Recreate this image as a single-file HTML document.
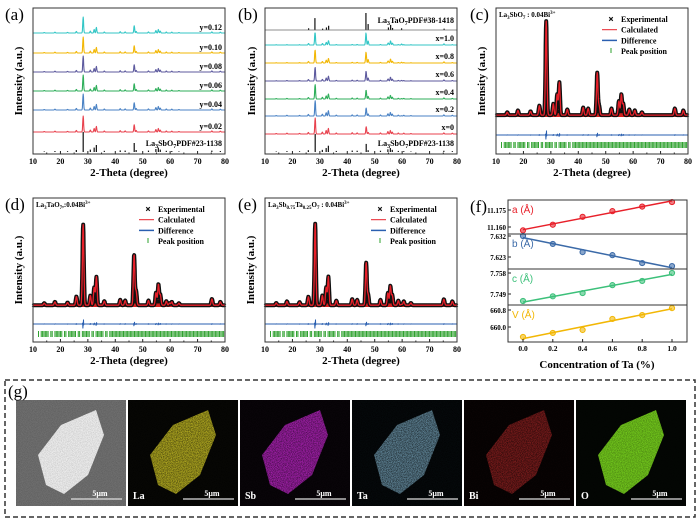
<!DOCTYPE html>
<html><head><meta charset="utf-8">
<style>
html,body{margin:0;padding:0;background:#fff;}
svg{display:block;font-family:"Liberation Serif",serif;}
</style></head>
<body>
<svg id="fig" width="700" height="520" viewBox="0 0 700 520" xmlns="http://www.w3.org/2000/svg"></svg>
<script>
// ---------- data ----------
const sbPeaks = [14.1, 18.0, 22.6, 25.8, 28.3, 30.9, 32.3, 33.1, 36.0, 41.8, 43.6, 46.9, 47.6, 52.1, 54.8, 55.7, 56.4, 58.6, 60.6, 63.2, 75.2, 78.3];
const sbAmps  = [0.03, 0.05, 0.04, 0.10, 1.00, 0.12, 0.22, 0.35, 0.06, 0.08, 0.07, 0.45, 0.10, 0.07, 0.15, 0.22, 0.12, 0.06, 0.05, 0.03, 0.07, 0.05];
const taPeaks = [25.9, 28.2, 31.0, 32.4, 33.2, 46.8, 47.6, 55.0, 55.8, 56.5, 59.8, 75.3];
const taAmps  = [0.10, 0.70, 0.08, 0.15, 0.25, 1.00, 0.35, 0.15, 0.30, 0.12, 0.10, 0.08];
const yLabels = ["y=0.12","y=0.10","y=0.08","y=0.06","y=0.04","y=0.02"];
const xLabels = ["x=1.0","x=0.8","x=0.6","x=0.4","x=0.2","x=0"];
const seriesColors = ["#33c6c6","#f2b705","#5d5a9e","#2eae5a","#4a82c4","#e8424e"];
const aBase = [33,53,72,91,110,132];
const bBase = [45,63,81,99,116,134];
const xTicks = [10,20,30,40,50,60,70,80];
const taConc = [0.0,0.2,0.4,0.6,0.8,1.0];
const latA = [11.157,11.162,11.169,11.174,11.178,11.182];
const latB = [7.6320,7.6286,7.6251,7.6238,7.6204,7.6191];
const latC = [7.7460,7.7480,7.7494,7.7528,7.7546,7.7580];
const latV = [659.53,659.72,659.86,660.38,660.56,660.89];
const fTicks = [0.0,0.2,0.4,0.6,0.8,1.0];

const NS="http://www.w3.org/2000/svg";
const svg=document.getElementById('fig');
function mk(tag,attrs,parent,text){
  const e=document.createElementNS(NS,tag);
  for(const k in attrs) e.setAttribute(k,attrs[k]);
  if(text!==undefined) e.textContent=text;
  (parent||svg).appendChild(e);
  return e;
}
function sx(x0,x1){return v=>x0+(v-10)/70*(x1-x0);}
function profile(peaks,amps,w){
  return t=>{let s=0;for(let i=0;i<peaks.length;i++){const d=(t-peaks[i])/w;s+=amps[i]*Math.exp(-d*d);}return s;};
}
function curve(g,f,X,base,h,color,name,sw){
  let pts=[];
  for(let t=10;t<=80;t+=0.1){pts.push(X(t).toFixed(1)+","+(base-h*f(t)).toFixed(1));}
  const p=mk('polyline',{points:pts.join(' '),fill:'none',stroke:color,'stroke-width':sw||1,'stroke-linejoin':'round'},g);
  
  
  return p;
}
function sticks(g,peaks,amps,X,base,h,name){
  const gg=mk('g',{},g);
  
  
  peaks.forEach((p,i)=>mk('line',{x1:X(p),x2:X(p),y1:base,y2:base-h*amps[i],stroke:'#111','stroke-width':1.2},gg));
}
function xAxis(g,x0,x1,yb,titleY){
  const X=sx(x0,x1);
  const ax=mk('g',{},g);
  
  
  xTicks.forEach(t=>{
    mk('line',{x1:X(t),x2:X(t),y1:yb,y2:yb-3,stroke:'#222'},ax);
    mk('text',{x:X(t),y:yb+10,'font-size':8,'font-weight':'bold','text-anchor':'middle'},ax,t);
  });
  for(let t=15;t<80;t+=10) mk('line',{x1:X(t),x2:X(t),y1:yb,y2:yb-1.5,stroke:'#222'},ax);
  const tt=mk('text',{x:(x0+x1)/2,y:titleY,'font-size':11,'font-weight':'bold','text-anchor':'middle'},g,'2-Theta (degree)');
  
  
  return X;
}
function frame(g,x0,y0,x1,y1){
  mk('rect',{x:x0,y:y0,width:x1-x0,height:y1-y0,fill:'none',stroke:'#333','stroke-width':1},g);
}
function yTitle(g,x,yc){
  const t=mk('text',{transform:`translate(${x},${yc}) rotate(-90)`,'font-size':11,'font-weight':'bold','text-anchor':'middle'},g,'Intensity (a.u.)');
  
  
}
function letter(x,y,s){
  const t=mk('text',{x:x,y:y,'font-size':17},svg,s);
  
  
}
function cross(g,x,y,s){
  mk('path',{d:`M${x-s} ${y-s}L${x+s} ${y+s}M${x-s} ${y+s}L${x+s} ${y-s}`,stroke:'#111','stroke-width':1.1},g);
}
const fSb=profile(sbPeaks,sbAmps,0.22);
const fTa=profile(taPeaks,taAmps,0.22);
const fSbW=profile(sbPeaks,sbAmps,0.36);
const fTaW=profile(taPeaks,taAmps,0.36);

// ---------- panel a ----------
{
  const g=mk('g',{});
  const X=xAxis(g,33,225,154,176);
  yTitle(g,22,81);
  seriesColors.forEach((c,i)=>{
    curve(g,fSb,X,aBase[i],16,c,'series-'+yLabels[i],1.1);
    const t=mk('text',{x:222,y:aBase[i]-3,'font-size':8,'font-weight':'bold','text-anchor':'end'},g,yLabels[i]);
    
  });
  sticks(g,sbPeaks,sbAmps,X,152,20,'reference-sticks');
  mk('text',{x:222,y:146,'font-size':8,'font-weight':'bold','text-anchor':'end'},g).innerHTML='La<tspan font-size="6" dy="2">3</tspan><tspan dy="-2">SbO</tspan><tspan font-size="6" dy="2">7</tspan><tspan dy="-2">PDF#23-1138</tspan>';
  frame(g,33,8,225,154);
  letter(5,20,'(a)');
}
// ---------- panel b ----------
{
  const g=mk('g',{});
  const X=xAxis(g,265,457,154,176);
  yTitle(g,255,81);
  sticks(g,taPeaks,taAmps,X,30,17,'ta-reference-sticks');
  mk('text',{x:454,y:23,'font-size':8,'font-weight':'bold','text-anchor':'end'},g).innerHTML='La<tspan font-size="6" dy="2">3</tspan><tspan dy="-2">TaO</tspan><tspan font-size="6" dy="2">7</tspan><tspan dy="-2">PDF#38-1418</tspan>';
  mk('line',{x1:265,x2:457,y1:30,y2:30,stroke:'#666','stroke-width':0.8},g);
  seriesColors.forEach((c,i)=>{
    const mix=t=>{const w=(5-i)/5;return (1-w)*fSb(t)+w*fTa(t)*0.6+w*fSb(t)*0.4;};
    curve(g,mix,X,bBase[i],16,c,'series-'+xLabels[i],1.1);
    const t=mk('text',{x:454,y:bBase[i]-4,'font-size':8,'font-weight':'bold','text-anchor':'end'},g,xLabels[i]);
    
  });
  sticks(g,sbPeaks,sbAmps,X,152,18,'sb-reference-sticks');
  mk('text',{x:454,y:146,'font-size':8,'font-weight':'bold','text-anchor':'end'},g).innerHTML='La<tspan font-size="6" dy="2">3</tspan><tspan dy="-2">SbO</tspan><tspan font-size="6" dy="2">7</tspan><tspan dy="-2">PDF#23-1138</tspan>';
  frame(g,265,8,457,154);
  letter(238,20,'(b)');
}
// ---------- rietveld panels ----------
function rietveld(name,x0,y0,y1,base,top,diffY,tickY,titleHTML,f,legX,legY){
  const g=mk('g',{});
  const X=xAxis(g,x0,x0+192,y1,y1+22);
  yTitle(g,x0-11,(y0+y1)/2);
  const h=base-top;
  const fb=t=>f(t)+0.02;
  let pts=[X(10)+","+base];
  for(let t=10;t<=80;t+=0.1) pts.push(X(t).toFixed(1)+","+(base-h*fb(t)).toFixed(1));
  pts.push(X(80)+","+base);
  mk('polygon',{points:pts.join(' '),fill:'#d42020'},g);
  curve(g,fb,X,base,h,'#111','experimental-data',4);
  const ex=mk('g',{},g);
  for(let t=10.2;t<80;t+=0.4){
    const v=fb(t);
    if(v>0.12){ for(let k=0.06;k<v;k+=0.045) cross(ex,X(t),base-h*k,1.6); }
    else cross(ex,X(t),base-h*v,1.4);
  }
  curve(g,fb,X,base,h,'#e8202a','calculated-curve',1.3);
  const fd=t=>{let s=0;for(let i=0;i<sbPeaks.length;i++){const d=(t-sbPeaks[i])/0.15;s+=sbAmps[i]*Math.exp(-d*d)*Math.sin(d*3);}return s;};
  curve(g,fd,X,diffY,7,'#2a5fb0','difference-curve',1);
  const tk=mk('g',{},g);
  for(let t=12;t<80;t+=0.5){ if((Math.floor(t*7)%5)!==2 || t>40) mk('line',{x1:X(t),x2:X(t),y1:tickY-3,y2:tickY+3,stroke:'#2ca02c','stroke-width':1},tk);}
  mk('text',{x:x0+3,y:y0+9,'font-size':7,'font-weight':'bold'},g).innerHTML=titleHTML;
  const L=mk('g',{},g);
  cross(L,legX,legY,1.8);
  mk('line',{x1:legX-9,x2:legX+6,y1:legY+10.7,y2:legY+10.7,stroke:'#e8202a'},L);
  mk('line',{x1:legX-9,x2:legX+6,y1:legY+21.4,y2:legY+21.4,stroke:'#2a5fb0','stroke-width':1.5},L);
  mk('line',{x1:legX,x2:legX,y1:legY+29,y2:legY+34,stroke:'#2ca02c'},L);
  ['Experimental','Calculated','Difference','Peak position'].forEach((s,i)=>mk('text',{x:legX+10,y:legY+3+i*10.7,'font-size':8,'font-weight':'bold'},L,s));
  frame(g,x0,y0,x0+192,y1);
}
rietveld('panel-c',496,8,154,117,23,135,145,'La<tspan font-size="5" dy="2">3</tspan><tspan dy="-2">SbO</tspan><tspan font-size="5" dy="2">7</tspan><tspan dy="-2"> : 0.04Bi</tspan><tspan font-size="5" dy="-3">3+</tspan>',fSbW,611,19);
letter(470,20,'(c)');
rietveld('panel-d',33,198,342,307,218,324,334,'La<tspan font-size="5" dy="2">3</tspan><tspan dy="-2">TaO</tspan><tspan font-size="5" dy="2">7</tspan><tspan dy="-2">,:0.04Bi</tspan><tspan font-size="5" dy="-3">3+</tspan>',t=>0.75*fSbW(t)+0.3*fTaW(t)*0.8,148,209);
letter(5,210,'(d)');
rietveld('panel-e',265,198,342,307,218,324,334,'La<tspan font-size="5" dy="2">3</tspan><tspan dy="-2">Sb</tspan><tspan font-size="5" dy="2">0.75</tspan><tspan dy="-2">Ta</tspan><tspan font-size="5" dy="2">0.25</tspan><tspan dy="-2">O</tspan><tspan font-size="5" dy="2">7</tspan><tspan dy="-2"> : 0.04Bi</tspan><tspan font-size="5" dy="-3">3+</tspan>',t=>0.85*fSbW(t)+0.1*fTaW(t),380,209);
letter(238,210,'(e)');

// ---------- panel f ----------
{
  const g=mk('g',{});
  const X=v=>523+v*149;
  const strips=[
    {d:latA,y0:200,y1:234,t1:11.175,p1:210,t2:11.160,p2:227,c:'#e8202a',lab:'a (Å)',ticks:['11.175','11.160'],n:'a'},
    {d:latB,y0:234,y1:269,t1:7.632,p1:236,t2:7.623,p2:257,c:'#3b6aa8',lab:'b (Å)',ticks:['7.632','7.623'],n:'b'},
    {d:latC,y0:269,y1:305,t1:7.758,p1:273,t2:7.749,p2:294,c:'#3cc07a',lab:'c (Å)',ticks:['7.758','7.749'],n:'c'},
    {d:latV,y0:305,y1:342,t1:660.8,p1:310,t2:660.0,p2:327,c:'#f2b705',lab:'V (Å)',ticks:['660.8','660.0'],n:'v'}
  ];
  strips.forEach(s=>{
    const Y=v=>s.p1+(v-s.t1)/(s.t2-s.t1)*(s.p2-s.p1);
    const sg=mk('g',{},g);
    const n=s.d.length;let mx=0,my=0;taConc.forEach((x,i)=>{mx+=x;my+=s.d[i];});mx/=n;my/=n;
    let sxy=0,sxx=0;taConc.forEach((x,i)=>{sxy+=(x-mx)*(s.d[i]-my);sxx+=(x-mx)*(x-mx);});
    const k=sxy/sxx,b0=my-k*mx;
    const fl=mk('line',{x1:X(0),y1:Y(b0),x2:X(1),y2:Y(b0+k),stroke:s.c,'stroke-width':1.5},sg);
    
    s.d.forEach((v,i)=>{
      const c=mk('circle',{cx:X(taConc[i]),cy:Y(v),r:2.6,fill:s.c,stroke:s.c,'fill-opacity':0.6},sg);
      
    });
    [[s.t1,s.ticks[0]],[s.t2,s.ticks[1]]].forEach(([v,l])=>{
      mk('line',{x1:508,x2:511,y1:Y(v),y2:Y(v),stroke:'#222'},sg);
      mk('text',{x:506,y:Y(v)+3,'font-size':7,'font-weight':'bold','text-anchor':'end'},sg,l);
    });
    mk('text',{x:512,y:s.y0+13,'font-size':10,'font-family':'Liberation Sans, sans-serif',fill:s.c},sg,s.lab);
    mk('rect',{x:508,y:s.y0,width:179,height:s.y1-s.y0,fill:'none',stroke:'#333'},sg);
  });
  fTicks.forEach(t=>{
    mk('line',{x1:X(t),x2:X(t),y1:342,y2:339,stroke:'#222'},g);
    mk('text',{x:X(t),y:351,'font-size':7.5,'font-weight':'bold','text-anchor':'middle'},g,t.toFixed(1));
  });
  const tt=mk('text',{x:597,y:368,'font-size':11,'font-weight':'bold','text-anchor':'middle'},g,'Concentration of Ta (%)');
  
  letter(470,212,'(f)');
}

// ---------- panel g ----------
{
  const g=mk('g',{});
  mk('rect',{x:5,y:380,width:690,height:137,fill:'none',stroke:'#333','stroke-width':1.5,'stroke-dasharray':'5,3'},g);
  letter(8,397,'(g)');
  mk('defs',{},g).innerHTML='<filter id="noise" x="0" y="0" width="1" height="1"><feTurbulence type="fractalNoise" baseFrequency="1.2" numOctaves="1" seed="3"/><feColorMatrix type="matrix" values="0 0 0 0 0  0 0 0 0 0  0 0 0 0 0  0 0 0 -2.2 1.5"/></filter>';
  const imgs=[
    {lab:'',bg:'#707070',c:'#eeeeee',n:'sem-image',o:0.15},
    {lab:'La',bg:'#080805',c:'#b0a820',n:'la-map',o:0.6},
    {lab:'Sb',bg:'#0a050a',c:'#a020a8',n:'sb-map',o:0.6},
    {lab:'Ta',bg:'#060a0c',c:'#5e8294',n:'ta-map',o:0.7},
    {lab:'Bi',bg:'#0a0404',c:'#7a1c1c',n:'bi-map',o:0.7},
    {lab:'O',bg:'#040704',c:'#72c81c',n:'o-map',o:0.35}
  ];
  imgs.forEach((im,i)=>{
    const x=16+i*112,y=400,w=110,h=106;
    const ig=mk('g',{},g);
    mk('rect',{x:x,y:y,width:w,height:h,fill:im.bg},ig);
    mk('path',{d:`M${x+30} ${y+85} L${x+22} ${y+55} L${x+45} ${y+25} L${x+80} ${y+10} L${x+88} ${y+35} L${x+72} ${y+75} L${x+48} ${y+94} Z`,fill:im.c},ig);
    mk('rect',{x:x,y:y,width:w,height:h,fill:'#000',filter:'url(#noise)',opacity:im.o},ig);
    mk('line',{x1:x+55,x2:x+106,y1:y+99,y2:y+99,stroke:'#ddd','stroke-width':1.2},ig);
    mk('text',{x:x+84,y:y+96,'font-size':8,'font-weight':'bold',fill:'#fff','text-anchor':'middle'},ig,'5μm');
    if(im.lab) mk('text',{x:x+5,y:y+99,'font-size':10,'font-weight':'bold',fill:'#fff'},ig,im.lab);
  });
}
</script>
</body></html>
